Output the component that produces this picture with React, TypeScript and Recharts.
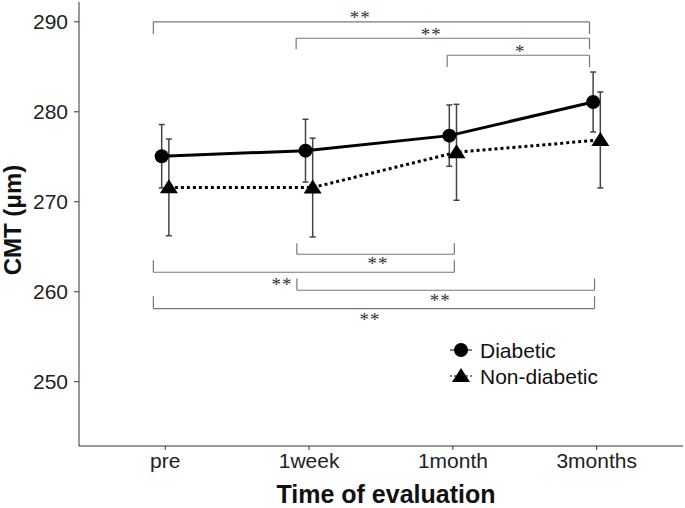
import {
  ComposedChart,
  Scatter,
  XAxis,
  YAxis,
  ErrorBar,
  ReferenceLine,
  ReferenceDot,
} from "recharts";

const timepoints = ["pre", "1week", "1month", "3months"];
const diabeticMean = [275.06, 275.68, 277.35, 281.09];
const diabeticSd = [3.52, 3.49, 3.41, 3.33];
const nonDiabeticMean = [271.6, 271.58, 275.5, 276.87];
const nonDiabeticSd = [5.37, 5.49, 5.33, 5.33];
const yTicks = [250, 260, 270, 280, 290];

// significance brackets: x in category units, y in µm
const bracketFrom = [-0.083, 0.91, 1.96, 0.915, -0.083, 0.915, -0.083];
const bracketTo = [2.95, 2.95, 2.95, 2.01, 2.01, 2.985, 2.985];
const bracketLevel = [290, 288.17, 286.28, 264.17, 262.17, 260.17, 258.13];
const bracketTip = [288.65, 286.94, 284.98, 265.39, 263.5, 261.47, 259.5];
const bracketText = ["**", "**", "*", "**", "**", "**", "**"];
const bracketTextX = [1.355, 1.849, 2.468, 1.479, 0.812, 1.912, 1.424];
const bracketTextY = [290.45, 288.6, 286.7, 263.2, 260.8, 259.1, 257.0];

const DODGE = 0.025;
const FONT = "'Liberation Sans', Arial, sans-serif";

const diabetic = timepoints.map((_, i) => ({
  x: i - DODGE,
  y: diabeticMean[i],
  err: diabeticSd[i],
}));
const nonDiabetic = timepoints.map((_, i) => ({
  x: i + DODGE,
  y: nonDiabeticMean[i],
  err: nonDiabeticSd[i],
}));

const CircleDot = (p: any) => <circle cx={p.cx} cy={p.cy} r={7} fill="#000" />;
const TriangleDot = (p: any) => (
  <path
    d={`M${p.cx},${p.cy - 8}L${p.cx + 9},${p.cy + 6}L${p.cx - 9},${p.cy + 6}Z`}
    fill="#000"
  />
);

const LegendBox = () => (
  <svg
    width={200}
    height={56}
    style={{ position: "absolute", left: 445, top: 336, display: "block" }}
  >
    <line x1={5} x2={27} y1={14} y2={14} stroke="#000" strokeWidth={1} />
    <circle cx={16} cy={14} r={7} fill="#000" />
    <text x={35} y={14} dy="0.36em" fontSize={21} fontFamily={FONT} fill="#111">
      Diabetic
    </text>
    <line
      x1={5}
      x2={27}
      y1={40}
      y2={40}
      stroke="#000"
      strokeWidth={1}
      strokeDasharray="2 2"
    />
    <path d="M16,32L25,46L7,46Z" fill="#000" />
    <text x={35} y={40} dy="0.36em" fontSize={21} fontFamily={FONT} fill="#111">
      Non-diabetic
    </text>
  </svg>
);

const Titles = () => (
  <svg
    width={685}
    height={508}
    style={{ position: "absolute", left: 0, top: 0, pointerEvents: "none" }}
  >
    <text
      x={21}
      y={220}
      transform="rotate(-90, 21, 220)"
      textAnchor="middle"
      fontSize={24}
      fontWeight="bold"
      fontFamily={FONT}
      fill="#111"
    >
      CMT (μm)
    </text>
    <text
      x={386}
      y={503}
      textAnchor="middle"
      fontSize={25}
      fontWeight="bold"
      fontFamily={FONT}
      fill="#111"
    >
      Time of evaluation
    </text>
  </svg>
);

export default function App() {
  const tick = { fontSize: 21, fill: "#222", fontFamily: FONT };
  return (
    <div
      style={{
        position: "relative",
        width: 685,
        height: 508,
        background: "#fff",
        overflow: "hidden",
      }}
    >
      <style>{"body{margin:0}"}</style>
      <ComposedChart
        width={685}
        height={508}
        margin={{ top: 2, right: 2, bottom: 0, left: 0 }}
      >
        <XAxis
          type="number"
          dataKey="x"
          domain={[-0.6, 3.6]}
          allowDataOverflow
          ticks={[0, 1, 2, 3]}
          tickFormatter={(v: number) => timepoints[v]}
          height={62}
          tick={tick}
          tickSize={4}
          tickMargin={3}
          stroke="#333"
        />
        <YAxis
          type="number"
          dataKey="y"
          domain={[242.86, 292.2]}
          allowDataOverflow
          ticks={yTicks}
          width={79}
          tick={tick}
          tickSize={5}
          tickMargin={6}
          stroke="#333"
        />
        {bracketLevel.map((lvl, i) => (
          <ReferenceLine
            key={`h${i}`}
            segment={[
              { x: bracketFrom[i], y: lvl },
              { x: bracketTo[i], y: lvl },
            ]}
            stroke="#777"
            strokeWidth={1.2}
          />
        ))}
        {bracketLevel.map((lvl, i) => (
          <ReferenceLine
            key={`l${i}`}
            segment={[
              { x: bracketFrom[i], y: lvl },
              { x: bracketFrom[i], y: bracketTip[i] },
            ]}
            stroke="#777"
            strokeWidth={1.2}
          />
        ))}
        {bracketLevel.map((lvl, i) => (
          <ReferenceLine
            key={`r${i}`}
            segment={[
              { x: bracketTo[i], y: lvl },
              { x: bracketTo[i], y: bracketTip[i] },
            ]}
            stroke="#777"
            strokeWidth={1.2}
          />
        ))}
        {bracketText.map((t, i) => (
          <ReferenceDot
            key={`t${i}`}
            x={bracketTextX[i]}
            y={bracketTextY[i]}
            r={0}
            stroke="none"
            label={{
              value: t,
              position: "center",
              fill: "#333",
              fontSize: 19,
              fontFamily: "'Liberation Serif', serif",
              letterSpacing: 1,
            }}
          />
        ))}
        <Scatter
          name="Non-diabetic"
          data={nonDiabetic}
          shape={TriangleDot}
          line={{ stroke: "#000", strokeWidth: 3, strokeDasharray: "3 3" }}
          lineType="joint"
          isAnimationActive={false}
        >
          <ErrorBar dataKey="err" direction="y" width={3} stroke="#444" strokeWidth={1.5} />
        </Scatter>
        <Scatter
          name="Diabetic"
          data={diabetic}
          shape={CircleDot}
          line={{ stroke: "#000", strokeWidth: 3 }}
          lineType="joint"
          isAnimationActive={false}
        >
          <ErrorBar dataKey="err" direction="y" width={3} stroke="#444" strokeWidth={1.5} />
        </Scatter>
      </ComposedChart>
      <Titles />
      <LegendBox />
    </div>
  );
}
